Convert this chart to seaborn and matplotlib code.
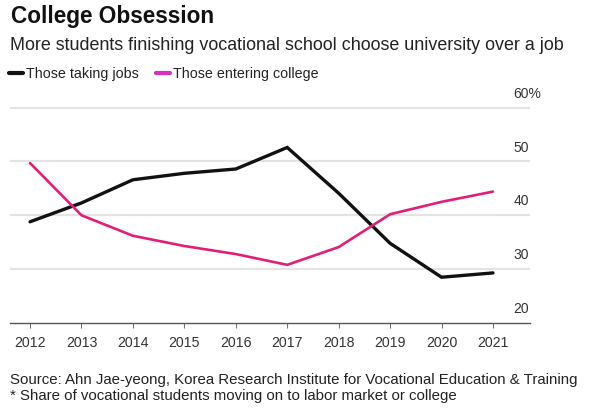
import numpy as np
import pandas as pd
import seaborn as sns
import matplotlib.pyplot as plt
import matplotlib.transforms as mtransforms
from matplotlib.lines import Line2D

years = [2012, 2013, 2014, 2015, 2016, 2017, 2018, 2019, 2020, 2021]
taking_jobs = [38.8, 42.3, 46.6, 47.8, 48.6, 52.6, 44.1, 34.8, 28.5, 29.3]
entering_college = [49.7, 40.0, 36.2, 34.3, 32.8, 30.8, 34.1, 40.2, 42.5, 44.4]
series_names = ["Those taking jobs", "Those entering college"]
y_ticks = [20, 30, 40, 50, 60]
y_tick_labels = ["20", "30", "40", "50", "60%"]

line_colors = {"Those taking jobs": "#111111", "Those entering college": "#e21f78"}
legend_colors = ["#111111", "#d92fc0"]

df = pd.DataFrame({
    "year": years * 2,
    "share": taking_jobs + entering_college,
    "series": [series_names[0]] * len(years) + [series_names[1]] * len(years),
})

sns.set_theme(style="white")
plt.rcParams["font.family"] = ["Liberation Sans", "DejaVu Sans"]

fig = plt.figure(figsize=(5.91, 4.09), dpi=100, facecolor="white")
ax = fig.add_axes([10 / 591, 1 - 323 / 409, 520 / 591, 217 / 409])

sns.lineplot(data=df, x="year", y="share", hue="series", palette=line_colors,
             ax=ax, legend=False, linewidth=2.2)
for line, lw in zip(ax.lines, [2.4, 1.9]):
    line.set_linewidth(lw)
    line.set_solid_joinstyle("miter")

ax.set_xlim(2011.61, 2021.72)
ax.set_ylim(20, 60.3)
ax.set_xticks(years)
ax.set_xticklabels([str(y) for y in years])
ax.set_yticks([])
ax.set_xlabel("")
ax.set_ylabel("")

for v in y_ticks[1:]:
    ax.axhline(v, color="#e4e4e4", lw=1.6, zorder=0)

for s in ["top", "right", "left"]:
    ax.spines[s].set_visible(False)
ax.spines["bottom"].set_color("#555555")
ax.spines["bottom"].set_linewidth(1.0)
ax.tick_params(axis="x", direction="out", length=3.5, width=0.8, color="#777777",
               pad=6, labelsize=10.2, labelcolor="#333333", bottom=True)

lab_trans = mtransforms.offset_copy(ax.get_yaxis_transform(), fig=fig, x=0, y=10, units="points")
for v, t in zip(y_ticks, y_tick_labels):
    ax.text(0.968, v, t, transform=lab_trans, ha="left", va="center",
            fontsize=10, color="#333333")

fig.text(11 / 591, 1 - 17 / 409, "College Obsession", fontsize=16.3, fontweight="bold",
         color="#111111", va="center", ha="left")
fig.text(10 / 591, 1 - 46 / 409,
         "More students finishing vocational school choose university over a job",
         fontsize=12.9, color="#222222", va="center", ha="left")

handles = [Line2D([], [], color=c, lw=3) for c in legend_colors]
fig.legend(handles, series_names, loc="center left", bbox_to_anchor=(3 / 591, 1 - 74 / 409),
           ncol=2, frameon=False, fontsize=10.3, handlelength=1.0, handletextpad=0.2,
           columnspacing=1.2, borderaxespad=0, labelcolor="#222222")

fig.text(10 / 591, 1 - 380 / 409,
         "Source: Ahn Jae-yeong, Korea Research Institute for Vocational Education & Training",
         fontsize=10.8, color="#222222", va="center", ha="left")
fig.text(10 / 591, 1 - 396 / 409,
         "* Share of vocational students moving on to labor market or college",
         fontsize=10.8, color="#222222", va="center", ha="left")

fig.savefig("out.png", dpi=100, facecolor="white")
